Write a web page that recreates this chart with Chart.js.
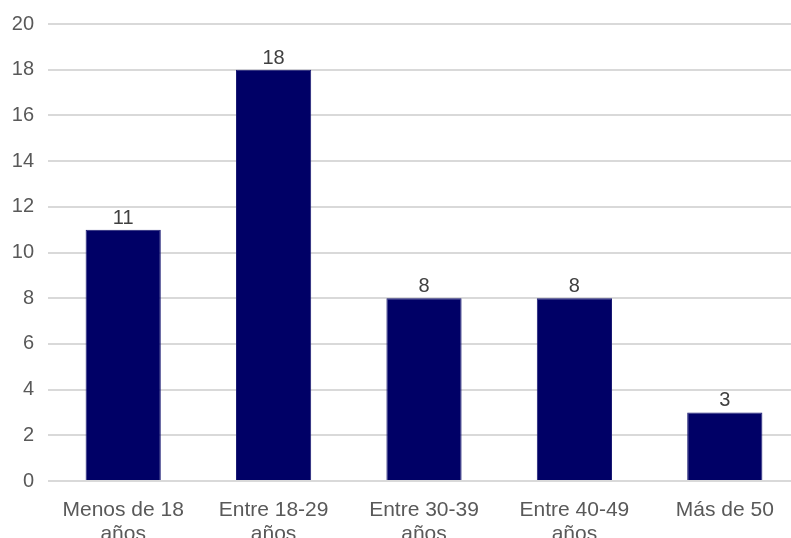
<!DOCTYPE html>
<html>
<head>
<meta charset="utf-8">
<script src="https://cdn.jsdelivr.net/npm/chart.js@4/dist/chart.umd.min.js"></script>
<style>
  html, body { margin: 0; padding: 0; background: #fff; overflow: hidden; }
  #wrap { width: 791px; height: 538px; overflow: hidden; }
  #chart { display: block; margin-top: -2px; }
</style>
</head>
<body>
<div id="wrap"><canvas id="chart" width="800" height="560"></canvas></div>
<script>
// data
const categories = [
  ['Menos de 18', 'años'],
  ['Entre 18-29', 'años'],
  ['Entre 30-39', 'años'],
  ['Entre 40-49', 'años'],
  'Más de 50'
];
const counts = [11, 18, 8, 8, 3];
const yTicks = [0, 2, 4, 6, 8, 10, 12, 14, 16, 18, 20];

const FONT = "'Liberation Sans', Arial, sans-serif";

// value labels above each bar
const valueLabels = {
  id: 'valueLabels',
  afterDatasetsDraw(chart) {
    const ctx = chart.ctx;
    const meta = chart.getDatasetMeta(0);
    ctx.save();
    ctx.font = '20px ' + FONT;
    ctx.fillStyle = '#404040';
    ctx.textAlign = 'center';
    ctx.textBaseline = 'alphabetic';
    meta.data.forEach((bar, i) => {
      ctx.fillText(String(counts[i]), bar.x, bar.y - 6);
    });
    ctx.restore();
  }
};

new Chart(document.getElementById('chart'), {
  type: 'bar',
  data: {
    labels: categories,
    datasets: [{
      data: counts,
      backgroundColor: '#000066',
      borderColor: '#1a1a73',
      borderWidth: 1,
      barPercentage: 0.5,
      categoryPercentage: 1
    }]
  },
  options: {
    responsive: false,
    devicePixelRatio: 1,
    animation: false,
    layout: { padding: { top: 20, left: 0, right: 0, bottom: 0 } },
    plugins: {
      legend: { display: false },
      tooltip: { enabled: false }
    },
    scales: {
      x: {
        grid: { display: false },
        border: { display: false },
        ticks: {
          color: '#595959',
          font: { family: FONT, size: 21, lineHeight: 1.15 },
          padding: 9,
          maxRotation: 0,
          autoSkip: false
        },
        afterFit(scale) { scale.height = 77; }
      },
      y: {
        min: yTicks[0],
        max: yTicks[yTicks.length - 1],
        afterBuildTicks(scale) { scale.ticks = yTicks.map(v => ({ value: v })); },
        grid: { color: '#d9d9d9', lineWidth: 2, drawTicks: false },
        border: { display: false },
        ticks: {
          color: '#595959',
          font: { family: FONT, size: 20 },
          padding: 14
        },
        afterFit(scale) { scale.width = 48; }
      }
    }
  },
  plugins: [valueLabels]
});
</script>
</body>
</html>
